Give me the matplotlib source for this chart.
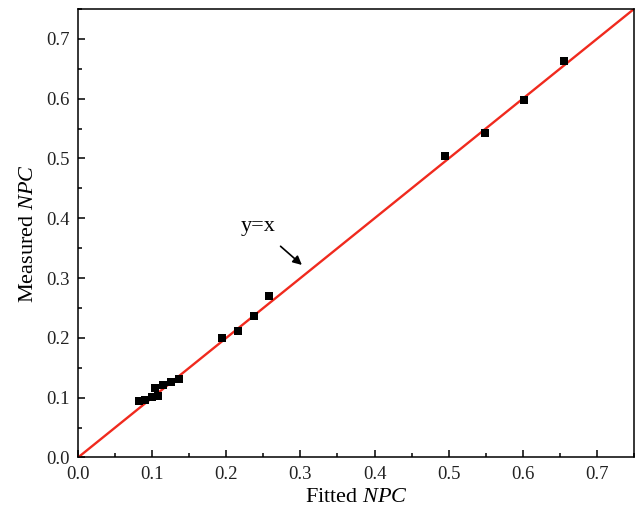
import matplotlib
matplotlib.use('Agg')
import matplotlib.pyplot as plt
import numpy as np
from matplotlib.ticker import MultipleLocator, FormatStrFormatter

# fitted vs measured NPC
fitted = [0.082, 0.091, 0.100, 0.104, 0.108, 0.114, 0.126, 0.136,
          0.194, 0.216, 0.237, 0.258,
          0.495, 0.549, 0.602, 0.656]
measured = [0.094, 0.096, 0.101, 0.116, 0.103, 0.121, 0.127, 0.132,
            0.200, 0.212, 0.237, 0.270,
            0.504, 0.543, 0.598, 0.663]
ref_line = [0.0, 0.75]

plt.rcParams['font.family'] = ['Liberation Serif', 'DejaVu Serif']
plt.rcParams['mathtext.fontset'] = 'custom'
plt.rcParams['mathtext.it'] = 'Liberation Serif:italic'
plt.rcParams['mathtext.rm'] = 'Liberation Serif'

fig = plt.figure(figsize=(6.38, 5.17), dpi=100)
ax = fig.add_axes([0.1223, 0.1151, 0.8714, 0.8675])

ax.plot(ref_line, ref_line, color='#f02a1e', lw=1.7, zorder=2)
ax.scatter(fitted, measured, marker='s', s=28, color='black', zorder=3, linewidths=0)

ax.annotate('y=x', xy=(0.302, 0.322), xytext=(0.243, 0.386),
            fontsize=16, ha='center', va='center',
            arrowprops=dict(arrowstyle='-|>', color='black', lw=1.2,
                            mutation_scale=13, shrinkA=8, shrinkB=0))

ax.set_xlim(0, 0.75)
ax.set_ylim(0, 0.75)
ax.xaxis.set_major_locator(MultipleLocator(0.1))
ax.xaxis.set_minor_locator(MultipleLocator(0.05))
ax.yaxis.set_major_locator(MultipleLocator(0.1))
ax.yaxis.set_minor_locator(MultipleLocator(0.05))
ax.xaxis.set_major_formatter(FormatStrFormatter('%.1f'))
ax.yaxis.set_major_formatter(FormatStrFormatter('%.1f'))
ax.tick_params(which='both', direction='in', width=1.1, labelsize=13.5, labelcolor='#222222')
ax.tick_params(which='major', length=5, pad=6)
ax.tick_params(which='minor', length=3)
for s in ax.spines.values():
    s.set_linewidth(1.1)

ax.set_xlabel(r'Fitted $\mathit{NPC}$', fontsize=16, labelpad=4)
ax.set_ylabel(r'Measured $\mathit{NPC}$', fontsize=16, labelpad=6)

fig.savefig('out.png', dpi=100)
